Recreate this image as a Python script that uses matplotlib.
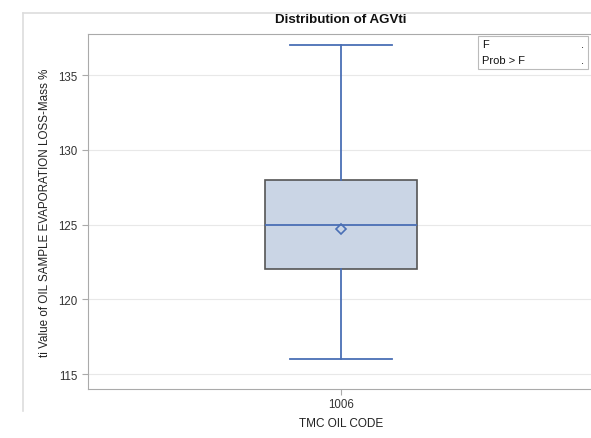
import matplotlib
matplotlib.use("Agg")
import matplotlib.pyplot as plt
from matplotlib.lines import Line2D
from matplotlib.patches import Rectangle

plt.rcParams["font.family"] = ["Liberation Sans", "DejaVu Sans"]

categories = ["1006"]
whisker_low = [116]
q1 = [122]
median = [125]
q3 = [128]
whisker_high = [137]
mean = [124.7]
yticks = [115, 120, 125, 130, 135]

fig = plt.figure(figsize=(5.91, 4.39), dpi=100)
fig.patch.set_facecolor("white")
ax = fig.add_axes([88/591, 49/439, 506/591, 355/439])

stats = []
for i, c in enumerate(categories):
    stats.append(dict(label=c, whislo=whisker_low[i], q1=q1[i], med=median[i],
                      q3=q3[i], whishi=whisker_high[i], mean=mean[i], fliers=[]))

blue = "#4a6fb5"
ax.bxp(stats, positions=[1], widths=0.30, showmeans=True, patch_artist=True,
       boxprops=dict(facecolor="#cad5e5", edgecolor="#555555", linewidth=1.2),
       medianprops=dict(color=blue, linewidth=1.3),
       whiskerprops=dict(color=blue, linewidth=1.3),
       capprops=dict(color=blue, linewidth=1.3),
       capwidths=0.20,
       meanprops=dict(marker="D", markerfacecolor="none", markeredgecolor=blue,
                      markersize=5.5, markeredgewidth=1.2),
       zorder=3)

ax.set_xlim(0.5, 1.5)
ax.set_ylim(114.0, 137.75)
ax.set_yticks(yticks)
ax.set_yticklabels([str(t) for t in yticks], fontsize=8.3, color="#333333")
ax.tick_params(axis="x", labelsize=8.3, colors="#333333", pad=2.5)
ax.tick_params(axis="both", color="#aaaaaa", length=4)
ax.grid(axis="y", color="#e8e8e8", linewidth=0.8, zorder=0)
ax.set_axisbelow(True)
for s in ax.spines.values():
    s.set_color("#aaaaaa")
    s.set_linewidth(0.8)

ax.set_xlabel("TMC OIL CODE", fontsize=8.5, color="#222222", labelpad=5)
ax.set_ylabel("ti Value of OIL SAMPLE EVAPORATION LOSS-Mass %", fontsize=8.4,
              color="#222222", labelpad=5)
fig.text(341/591, 1 - 20/439, "Distribution of AGVti", ha="center", va="center",
         fontsize=9.6, fontweight="bold", color="#111111")

# statistics inset box
leg_ax_text = [("F", "."), ("Prob > F", ".")]
box = Rectangle((478/591, 1 - 70/439), 110/591, 33/439, transform=fig.transFigure,
                facecolor="white", edgecolor="#bbbbbb", linewidth=0.8, zorder=5)
fig.patches.append(box)
for i, (a, b) in enumerate(leg_ax_text):
    y = 1 - (45 + i * 16) / 439
    fig.text(482/591, y, a, fontsize=8, ha="left", va="center", color="#111111", zorder=6)
    fig.text(584/591, y, b, fontsize=8, ha="right", va="center", color="#111111", zorder=6)

# outer frame lines
fig.add_artist(Line2D([23/591, 1], [1 - 14/439, 1 - 14/439], transform=fig.transFigure,
                      color="#dddddd", linewidth=1.2))
fig.add_artist(Line2D([23/591, 23/591], [1 - 14/439, 1 - 412/439], transform=fig.transFigure,
                      color="#dddddd", linewidth=1.2))

fig.savefig("out.png", dpi=100)
